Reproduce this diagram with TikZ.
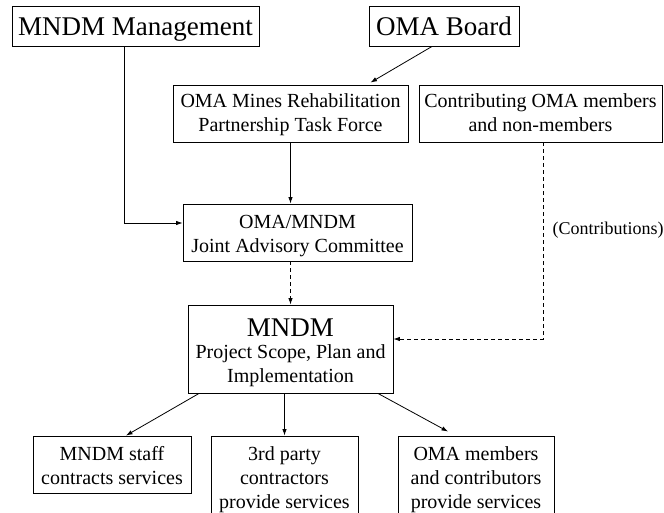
\documentclass[tikz,border=0pt]{standalone}
\usepackage{fontspec}
\setmainfont{Liberation Serif}
\usetikzlibrary{arrows.meta}
\newcommand{\myT}[1]{\rule{0pt}{#1}}
\newcommand{\myB}{\rule[-5pt]{0pt}{5pt}}
\begin{document}
\begin{tikzpicture}[x=1pt,y=-1pt,
  box/.style={draw, line width=0.9pt, inner sep=0pt, align=center, font=\fontsize{20}{24}\selectfont},
  big/.style={font=\fontsize{27}{30}\selectfont},
  arr/.style={-{Latex[length=6.5pt,width=4.5pt]}, line width=0.8pt},
  dsh/.style={dash pattern=on 4pt off 3pt}]
\useasboundingbox (0,0) rectangle (664,513);
\clip (0,0) rectangle (664,513);
\node[box,big,minimum width=247pt,minimum height=40pt] (mgmt) at (135.5,26) {\myT{25pt}MNDM Management\myB};
\node[box,big,minimum width=150pt,minimum height=40pt] (board) at (444,26) {\myT{25pt}OMA Board\myB};
\node[box,minimum width=235pt,minimum height=57pt] (rehab) at (290.5,113.5) {\myT{18pt}OMA Mines Rehabilitation\\Partnership Task Force\myB};
\node[box,minimum width=243pt,minimum height=57pt] (contrib) at (540.5,113.5) {\myT{18pt}Contributing OMA members\\and non-members\myB};
\node[box,minimum width=229pt,minimum height=57pt] (adv) at (297.5,232.5) {\myT{20pt}OMA/MNDM\\Joint Advisory Committee\myB};
\node[box,minimum width=205pt,minimum height=88pt] (mndm) at (290.5,349) {\myT{26pt}{\fontsize{27}{28}\selectfont MNDM}\\[-1.5pt]Project Scope, Plan and\\Implementation\myB};
\node[box,minimum width=158pt,minimum height=57pt] (staff) at (112,464.5) {\myT{20pt}MNDM staff\\contracts services\myB};
\node[box,minimum width=147pt,minimum height=81pt] (third) at (284.5,476.5) {\myT{20pt}3rd party\\contractors\\provide services\myB};
\node[box,minimum width=156pt,minimum height=81pt] (omam) at (476,476.5) {\myT{20pt}OMA members\\and contributors\\provide services\myB};
\node[font=\fontsize{18}{22}\selectfont, inner sep=0pt, anchor=base] (contr) at (608,235) {(Contributions)};

\draw[arr] ([xshift=-11.5pt]mgmt.south) |- ([yshift=9.5pt]adv.west);
\draw[arr] ([xshift=-12pt]board.south) -- ([xshift=80pt,yshift=2pt]rehab.north);
\draw[arr] (rehab.south) -- (rehab.south |- adv.north);
\draw[arr,dsh] (mndm.north |- adv.south) -- (mndm.north);
\draw[arr,dsh] ([xshift=2.5pt]contrib.south) |- ([yshift=10pt]mndm.east);
\draw[arr] ([xshift=-91.5pt]mndm.south) -- ([xshift=14pt]staff.north);
\draw[arr] (third.north |- mndm.south) -- (third.north);
\draw[arr] ([xshift=87.5pt]mndm.south) -- ([xshift=-28pt,yshift=4pt]omam.north);
\end{tikzpicture}
\end{document}
